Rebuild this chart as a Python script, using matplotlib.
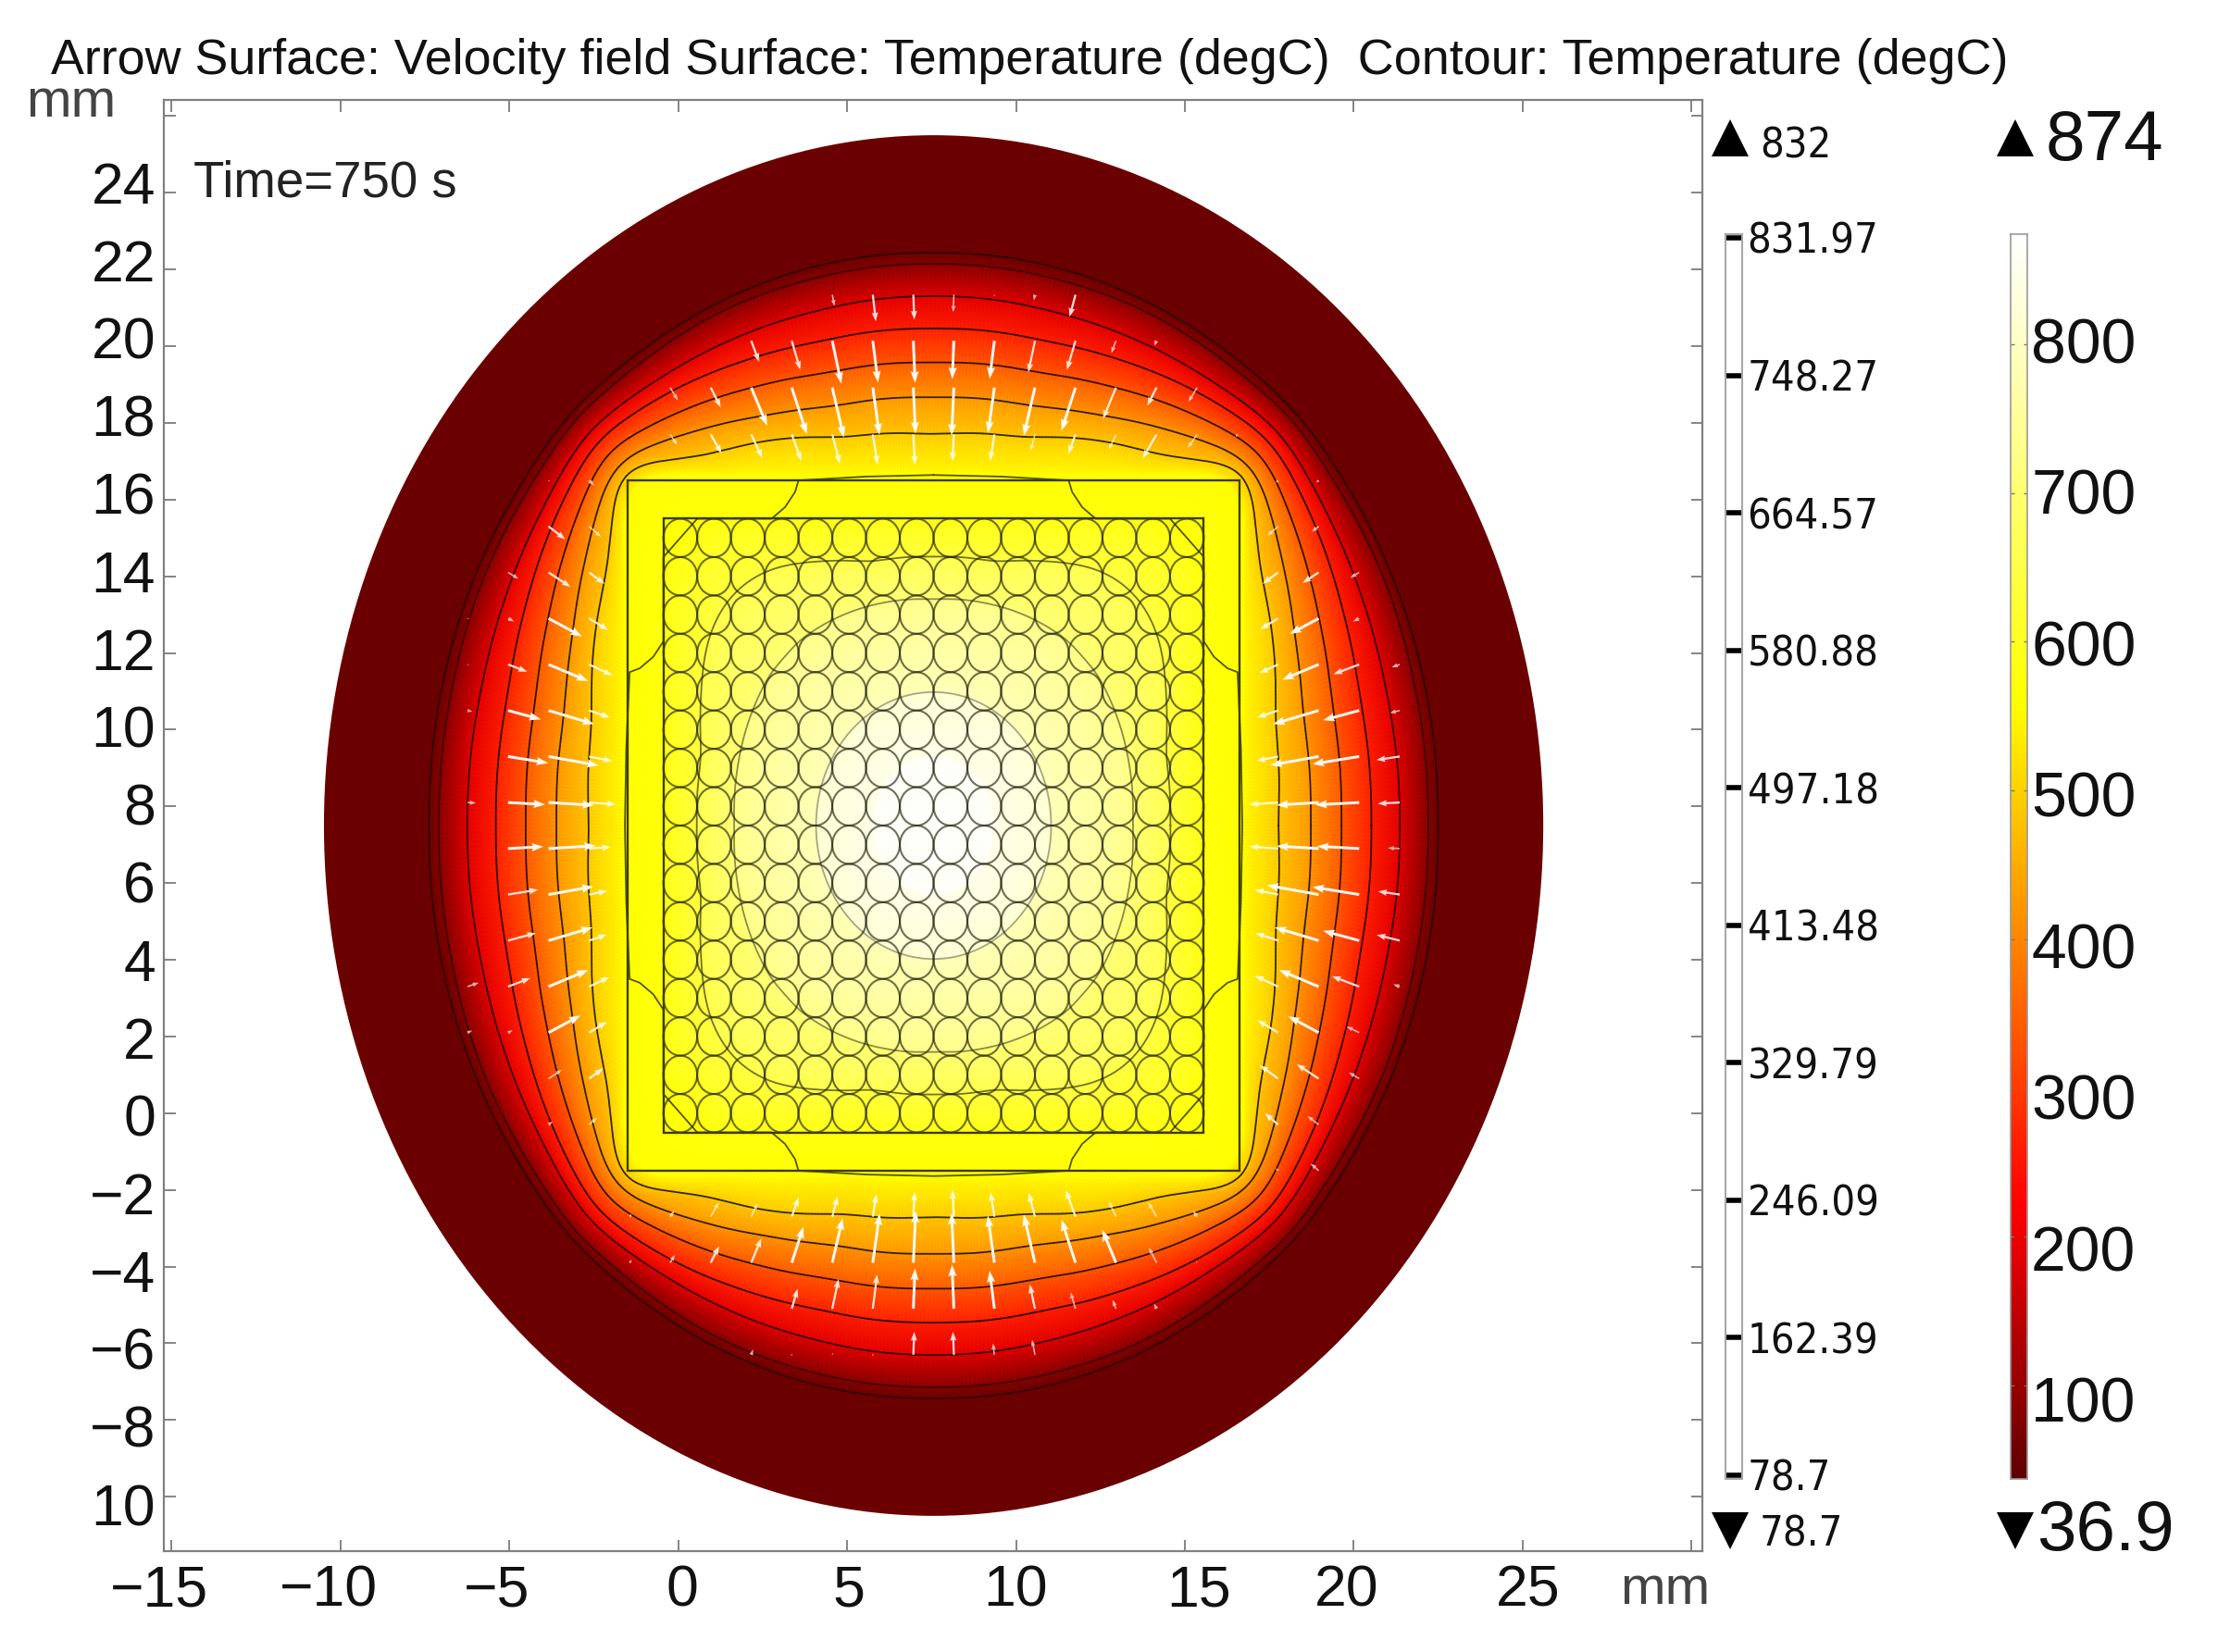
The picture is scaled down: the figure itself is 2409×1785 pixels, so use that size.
"""COMSOL-style cross section at t=750 s: temperature surface, isotherms, velocity arrows."""
import numpy as np
import matplotlib
matplotlib.use("Agg")
import matplotlib.pyplot as plt
from matplotlib.colors import LinearSegmentedColormap, Normalize
from matplotlib.patches import Circle, Ellipse, Rectangle
from matplotlib.collections import PatchCollection

plt.rcParams["font.family"] = ["Liberation Sans", "DejaVu Sans"]
W, H = 2409, 1785

TITLE = "Arrow Surface: Velocity field Surface: Temperature (degC)  Contour: Temperature (degC)"
T_MIN, T_MAX = 36.9, 874.0
SURF_MIN_LBL, SURF_MAX_LBL = "36.9", "874"
CONT_MIN_LBL, CONT_MAX_LBL = "78.7", "832"
CONT_LEVELS = [78.7, 162.39, 246.09, 329.79, 413.48, 497.18, 580.88, 664.57, 748.27, 831.97]
CONT_LABELS = ["78.7", "162.39", "246.09", "329.79", "413.48", "497.18", "580.88", "664.57", "748.27", "831.97"]
SURF_TICKS = [100, 200, 300, 400, 500, 600, 700, 800]
X_TICKS = [-15, -10, -5, 0, 5, 10, 15, 20, 25, 30]
X_LABELS = ["\u221215", "\u221210", "\u22125", "0", "5", "10", "15", "20", "25"]
Y_TICKS = [26, 24, 22, 20, 18, 16, 14, 12, 10, 8, 6, 4, 2, 0, -2, -4, -6, -8, -10]
Y_LABELS = ["24", "22", "20", "18", "16", "14", "12", "10", "8", "6", "4", "2", "0",
            "\u22122", "\u22124", "\u22126", "\u22128", "10"]

# colour bar read as temperature -> colour
CMAP_T = [36.9, 220, 560, 874]
CMAP_C = ["#600000", "#ff0000", "#ffff00", "#ffffff"]

# geometry (mm)
CENTER_X, CENTER_Y = 7.56, 7.5
OUTER_RX, OUTER_RY = 18.05, 18.0
WIRE_IDX = list(range(16))
SQUARE_HALF = [(9.06, 9.0), (8.0, 8.0)]

# isotherms, centre outwards: radius (mm) read at angles away from the axis, and temperature
RING_ANGLES = [0, 15, 25, 35, 40, 45]
RINGS = [
    [0.0, 0.0, 0.0, 0.0, 0.0, 0.0],
    [1.8, 1.8, 1.8, 1.8, 1.8, 1.8],
    [3.48, 3.48, 3.48, 3.48, 3.48, 3.48],
    [5.89, 6.0, 6.1, 6.2, 6.25, 6.22],
    [7.0, 7.1, 7.6, 8.2, 8.4, 8.47],
    [8.0, 8.3, 8.85, 9.75, 10.4, 10.6],
    [9.14, 9.45, 10.1, 11.1, 12.0, 12.75],
    [10.18, 10.45, 11.1, 11.75, 12.4, 13.15],
    [11.15, 11.3, 11.78, 12.5, 12.95, 13.35],
    [12.06, 12.2, 12.6, 13.15, 13.45, 13.75],
    [12.95, 13.05, 13.35, 13.75, 13.95, 14.15],
    [13.8, 13.85, 14.0, 14.2, 14.35, 14.5],
    [14.64, 14.7, 14.8, 14.85, 14.9, 15.0],
    [14.93, 15.0, 15.05, 15.1, 15.15, 15.2],
]
RING_TEMP = [874, 862, 806, 714, 646, 575, 558, 487, 420, 340, 260, 190, 80, 50]
RIM_TEMP = 50
DRAWN_RINGS = [2, 3, 4, 7, 8, 9, 10, 11, 12, 13]
RING_ALPHA = [0, 0, 0.35, 0.45, 0.55, 0, 0, 0.8, 0.8, 0.8, 0.8, 0.75, 0.5, 0.5]

# isotherm that touches the square, one quadrant (u, v from the centre)
EDGE_U = [0, 2, 4, 4.1, 4.4, 4.8, 7, 8, 8, 8.3, 8.7, 9, 9.1, 9.14]
EDGE_V = [9.14, 9.1, 9, 8.7, 8.3, 8, 8, 7, 4.8, 4.4, 4.1, 4, 2, 0]

# arrow tails sit on a 1.2 mm grid; length in mm, read per row {column: length}
ARROW_X0, ARROW_DX = -5.04, 1.2
ARROW_ROWS = {
    21.34: {8: .3, 9: .7, 10: .65, 11: .45, 12: .05, 13: .15, 14: .6},
    20.14: {6: .6, 7: .8, 8: 1.15, 9: 1.1, 10: 1.1, 11: 1.0, 12: 1.0, 13: .85, 14: .8, 15: .35, 16: .15},
    18.92: {4: .4, 5: .6, 6: 1.1, 7: 1.3, 8: 1.35, 9: 1.25, 10: 1.2, 11: 1.25, 12: 1.2, 13: 1.3, 14: 1.2,
            15: .9, 16: .55, 17: .45},
    17.70: {3: .05, 4: .35, 5: .6, 6: .7, 7: .75, 8: .8, 9: .8, 10: .8, 11: .7, 12: .7, 13: .45, 14: .55,
            15: .45, 16: .75, 17: .45, 18: .1},
    16.50: {1: .05, 2: .2, 19: .1, 20: .1},
    15.30: {1: .6, 2: .45, 19: .4, 20: .25},
    14.10: {0: .35, 1: .75, 2: .55, 19: .55, 20: .55, 21: .3},
    12.90: {-1: .05, 0: .2, 1: 1.1, 2: .65, 19: .6, 20: .95, 21: .2},
    11.70: {-1: .05, 0: .6, 1: 1.25, 2: .75, 19: .6, 20: 1.15, 21: .8, 22: .25},
    10.50: {-1: .15, 0: 1.0, 1: 1.4, 2: .65, 19: .65, 20: 1.4, 21: 1.1, 22: .3},
    9.30: {0: 1.2, 1: 1.5, 2: .7, 19: .65, 20: 1.45, 21: 1.4, 22: .7},
    8.10: {-1: .25, 0: 1.1, 1: 1.35, 2: .8, 19: .85, 20: 1.25, 21: 1.3, 22: .65},
    6.90: {0: 1.05, 1: 1.4, 2: .65, 19: .85, 20: 1.25, 21: 1.25, 22: .35},
    5.70: {0: .9, 1: 1.35, 2: .55, 19: .7, 20: 1.55, 21: 1.4, 22: .65},
    4.50: {0: .85, 1: 1.35, 2: .55, 19: .7, 20: 1.35, 21: 1.1, 22: .7},
    3.30: {-1: .35, 0: .7, 1: 1.25, 2: .65, 19: .75, 20: 1.25, 21: .85, 22: .2},
    2.10: {-1: .15, 0: .15, 1: 1.05, 2: .6, 19: .7, 20: 1.0, 21: .4},
    0.90: {1: .45, 2: .5, 19: .65, 20: .75, 21: .35},
    -0.30: {1: .15, 2: .3, 19: .5, 20: .4},
    -1.50: {19: .1, 20: .3},
    -2.70: {3: .1, 4: .2, 5: .45, 6: .4, 7: .55, 8: .55, 9: .6, 10: .65, 11: .7, 12: .65, 13: .65, 14: .75,
            15: .45, 16: .45, 17: .2},
    -3.90: {3: .1, 4: .25, 5: .5, 6: .7, 7: 1.0, 8: 1.2, 9: 1.3, 10: 1.35, 11: 1.3, 12: 1.25, 13: 1.3,
            14: 1.2, 15: .95, 16: .45, 17: .05},
    -5.10: {7: .55, 8: .8, 9: .9, 10: 1.05, 11: 1.15, 12: 1.0, 13: .65, 14: .45, 15: .25, 16: .15},
    -6.30: {6: .15, 7: .03, 8: .05, 9: .03, 10: .6, 11: .6, 12: .3, 13: .4},
}

cmap = LinearSegmentedColormap.from_list(
    "heat", [((t - T_MIN) / (T_MAX - T_MIN), c) for t, c in zip(CMAP_T, CMAP_C)])
norm = Normalize(T_MIN, T_MAX)

fig = plt.figure(figsize=(W / 100, H / 100), dpi=100, facecolor="white")


def box(l, t, r, b):
    return [l / W, (H - b) / H, (r - l) / W, (b - t) / H]


def round_off(r, half=5):
    # takes the kinks out of the table readings, wraps round the full circle
    kernel = np.ones(2 * half + 1) / (2 * half + 1)
    for _ in range(2):
        r = np.convolve(np.r_[r[-half - 1:-1], r, r[1:half + 1]], kernel, mode="valid")
    return r


ax = fig.add_axes(box(177, 108, 1839, 1676))
ax.set_xlim(-15.23, 30.32)
ax.set_ylim(-11.42, 26.42)
ax.set_xticks(X_TICKS)
ax.set_yticks(Y_TICKS)
ax.tick_params(direction="in", length=9, width=1.2, color="#707070", top=True, right=True,
               labelleft=False, labelbottom=False)
for s in ax.spines.values():
    s.set_color("#808080")
    s.set_linewidth(1.6)

# surface: outer ring flat colour, then a mesh through the isotherms
ax.add_patch(Ellipse((CENTER_X, CENTER_Y), 2 * OUTER_RX, 2 * OUTER_RY, fc=cmap(norm(RIM_TEMP)), ec="none", zorder=1))
theta = np.linspace(0, 2 * np.pi, 721)
# angle away from the nearest axis, 0..45 deg
fold = np.degrees(np.abs(((theta + np.pi / 4) % (np.pi / 2)) - np.pi / 4))
X, Y = [], []
for radii in RINGS:
    r = round_off(np.interp(fold, RING_ANGLES, radii))
    X.append(CENTER_X + r * np.cos(theta))
    Y.append(CENTER_Y + r * np.sin(theta))
X, Y = np.array(X), np.array(Y)
C = np.repeat(np.array(RING_TEMP, float)[:, None], theta.size, axis=1)
ax.pcolormesh(X, Y, C, cmap=cmap, norm=norm, shading="gouraud", zorder=2, rasterized=True)

# isotherms
for i in DRAWN_RINGS:
    ax.plot(X[i], Y[i], color="black", alpha=RING_ALPHA[i], lw=1.3, zorder=3)
u, v = np.array(EDGE_U, float), np.array(EDGE_V, float)
edge_x = np.r_[u, u[::-1], -u, -u[::-1]] + CENTER_X
edge_y = np.r_[v, -v[::-1], -v, v[::-1]] + CENTER_Y
ax.plot(edge_x, edge_y, color="#2a2a00", alpha=0.8, lw=1.3, zorder=3)

# wires and the two squares
wires = [Circle((CENTER_X - 7.5 + i, CENTER_Y - 7.5 + j), 0.5) for i in WIRE_IDX for j in WIRE_IDX]
ax.add_collection(PatchCollection(wires, facecolor="none", edgecolor="#22220a", alpha=0.65,
                                  linewidth=1.5, zorder=4))
for hx, hy in SQUARE_HALF:
    ax.add_patch(Rectangle((CENTER_X - hx, CENTER_Y - hy), 2 * hx, 2 * hy, fc="none", ec="#3c3c00", lw=1.7, zorder=5))

# velocity arrows, thicker for the long ones as in the plot
ax_x, ax_y, ax_l = [], [], []
for y_row, cols in ARROW_ROWS.items():
    for col, length in cols.items():
        ax_x.append(ARROW_X0 + ARROW_DX * col)
        ax_y.append(y_row)
        ax_l.append(length)
ax_x, ax_y, ax_l = np.array(ax_x), np.array(ax_y), np.array(ax_l)
dist = np.hypot(CENTER_X - ax_x, CENTER_Y - ax_y)
ax_u = (CENTER_X - ax_x) / dist * ax_l
ax_v = (CENTER_Y - ax_y) / dist * ax_l
for lo, hi, w, alpha in [(0, .5, 1.6, .7), (.5, .95, 2.3, .85), (.95, 9, 3.0, .95)]:
    m = (ax_l >= lo) & (ax_l < hi)
    ax.quiver(ax_x[m], ax_y[m], ax_u[m], ax_v[m], angles="xy", scale_units="xy", scale=1,
              units="dots", width=w, headwidth=3.0, headlength=4.2, headaxislength=3.8,
              color="white", alpha=alpha, zorder=6)

# contour legend: white bar with black level marks
bar1 = fig.add_axes(box(1864, 253, 1882, 1598))
bar1.set_xlim(0, 1)
bar1.set_ylim(76.4, 834.2)
bar1.set_xticks([])
bar1.set_yticks(CONT_LEVELS)
bar1.set_yticklabels(CONT_LABELS, fontsize=32.5, family="DejaVu Sans", stretch="condensed", color="#111111")
bar1.tick_params(axis="y", direction="in", left=True, right=False, labelleft=False, labelright=True,
                 length=13, width=4, color="black", pad=4)
for s in bar1.spines.values():
    s.set_color("#a8a8a8")
    s.set_linewidth(1.5)

# surface legend
bar2 = fig.add_axes(box(2172, 253, 2190, 1598))
bar2.imshow(np.linspace(T_MAX, T_MIN, 512)[:, None], cmap=cmap, norm=norm, aspect="auto",
            extent=[0, 1, T_MIN, T_MAX])
bar2.set_xticks([])
bar2.set_yticks(SURF_TICKS)
bar2.set_yticklabels([])
bar2.tick_params(axis="y", direction="in", left=True, right=True, length=3, width=1, color="#777777")
for s in bar2.spines.values():
    s.set_color("#999999")
    s.set_linewidth(1.2)

# texts and min/max triangles are placed in image pixels, the labels are hand-set in the source
over = fig.add_axes([0, 0, 1, 1], facecolor="none")
over.set_xlim(0, W)
over.set_ylim(H, 0)
over.axis("off")

over.text(55, 80, TITLE, fontsize=38.8, color="#111111", va="baseline", ha="left")
over.text(28, 126, "mm", fontsize=42, color="#444444", va="baseline")
over.text(1750, 1733, "mm", fontsize=42, color="#444444", va="baseline")
over.text(209, 212, "Time=750 s", fontsize=39.3, color="#222222", va="baseline")

for i, lab in enumerate(Y_LABELS):
    over.text(168, 196.5 + 84.03 * i, lab, fontsize=45, ha="right", va="center_baseline", color="#111111")
x_label_px = [172, 355, 537, 737, 917, 1097, 1295, 1455, 1651]
for px, lab in zip(x_label_px, X_LABELS):
    over.text(px, 1712, lab, fontsize=45, ha="center", va="center_baseline", color="#111111")
for t in SURF_TICKS:
    over.text(2194, 367 + (800 - t) * 1.635, str(t), fontsize=49, ha="left", va="center_baseline",
              color="#111111")

over.plot([1869, 2177], [148.5, 148.5], ls="none", marker="^", ms=29, color="black", mew=0)
over.plot([1869, 2177], [1653.5, 1653.5], ls="none", marker="v", ms=29, color="black", mew=0)
over.text(1901, 153, CONT_MAX_LBL, fontsize=32.5, family="DejaVu Sans", stretch="condensed",
          va="center_baseline", color="#111111")
over.text(1901, 1653, CONT_MIN_LBL, fontsize=32.5, family="DejaVu Sans", stretch="condensed",
          va="center_baseline", color="#111111")
over.text(2210, 145, SURF_MAX_LBL, fontsize=55, va="center_baseline", color="#111111")
over.text(2200, 1647, SURF_MIN_LBL, fontsize=55, va="center_baseline", color="#111111")

fig.savefig("out.png", dpi=100, facecolor="white")
